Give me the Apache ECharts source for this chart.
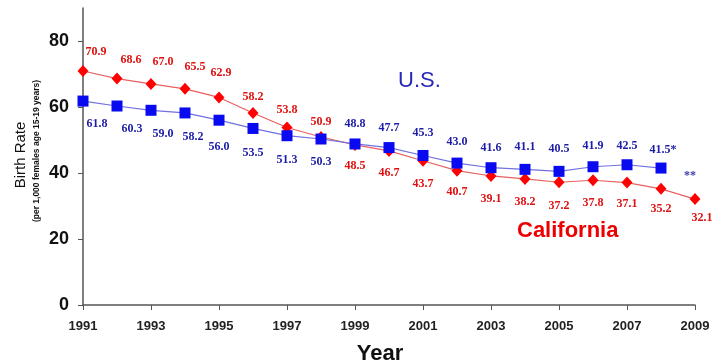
<!DOCTYPE html>
<html>
<head>
<meta charset="utf-8">
<script src="https://cdn.jsdelivr.net/npm/echarts@6/dist/echarts.min.js"></script>
<style>html,body{margin:0;padding:0;background:#fff;}#c{width:723px;height:362px;}</style>
</head>
<body>
<div id="c"></div>
<script>
var years = ['1991','1992','1993','1994','1995','1996','1997','1998','1999','2000','2001','2002','2003','2004','2005','2006','2007','2008','2009'];
var california = [70.9,68.6,67.0,65.5,62.9,58.2,53.8,50.9,48.5,46.7,43.7,40.7,39.1,38.2,37.2,37.8,37.1,35.2,32.1];
var us = [61.8,60.3,59.0,58.2,56.0,53.5,51.3,50.3,48.8,47.7,45.3,43.0,41.6,41.1,40.5,41.9,42.5,41.5,null];
var usLabelText = ['61.8','60.3','59.0','58.2','56.0','53.5','51.3','50.3','48.8','47.7','45.3','43.0','41.6','41.1','40.5','41.9','42.5','41.5*',''];
var yTicks = [0,20,40,60,80];

// label placement (style, not data)
var caOffsets = [[13,-19],[14,-19],[12,-22],[10,-22],[2,-25],[0,-16],[0,-18],[0,-15],[0,21],[0,22],[0,23],[0,21],[0,23],[0,23],[0,24],[0,23],[0,21],[0,20],[7,19]];
var usOffsets = [[14,23],[15,23],[12,24],[8,24],[0,27],[0,24],[0,24],[0,23],[0,-20],[0,-20],[0,-23],[0,-21],[0,-20],[0,-22],[0,-22],[0,-21],[0,-19],[2,-18],[0,0]];

var caData = california.map(function(v,i){
  return {value:v, label:{show:true, position:'inside', offset:caOffsets[i], color:'#e01010', fontFamily:'Liberation Serif', fontWeight:'bold', fontSize:12, formatter:function(p){return p.value.toFixed(1);}}};
});
var usData = us.map(function(v,i){
  return {value:v, label:{show:v!==null, position:'inside', offset:usOffsets[i], color:'#1c1ca8', fontFamily:'Liberation Serif', fontWeight:'bold', fontSize:12, formatter:function(){return usLabelText[i];}}};
});

var chart = echarts.init(document.getElementById('c'), null, {renderer:'canvas'});
chart.setOption({
  animation:false,
  backgroundColor:'#ffffff',
  grid:{left:83, right:28, top:8, bottom:57, containLabel:false, outerBoundsMode:'none'},
  xAxis:{
    type:'category', data:years, boundaryGap:false,
    axisLine:{lineStyle:{color:'#555', width:1.5}},
    axisTick:{interval:1, length:5, lineStyle:{color:'#555'}},
    axisLabel:{interval:1, color:'#222', fontFamily:'Liberation Sans', fontWeight:'bold', fontSize:13, margin:15},
    splitLine:{show:false},
    name:'Year', nameLocation:'middle', nameGap:38,
    nameTextStyle:{fontFamily:'Liberation Sans', fontWeight:'bold', fontSize:22, color:'#111', padding:[0,18,0,0]}
  },
  yAxis:{
    type:'value', min:0, max:90, interval:20,
    axisLine:{show:true, lineStyle:{color:'#555', width:1.5}},
    axisTick:{show:true, length:5, customValues:yTicks, lineStyle:{color:'#555'}},
    axisLabel:{customValues:yTicks, color:'#111', fontFamily:'Liberation Sans', fontWeight:'bold', fontSize:18, margin:14},
    splitLine:{show:false}
  },
  series:[
    {name:'California', type:'line', data:caData, symbol:'diamond', symbolSize:[11,12],
     itemStyle:{color:'#ff0000'}, lineStyle:{color:'#e86060', width:1.2}, z:2},
    {name:'U.S.', type:'line', data:usData, symbol:'rect', symbolSize:11,
     itemStyle:{color:'#0a0af0'}, lineStyle:{color:'#7070e0', width:1.2}, z:3, connectNulls:false}
  ],
  graphic:[
    {type:'text', x:21, y:155, rotation:Math.PI/2, style:{text:'Birth Rate', fill:'#111', font:'normal 15px "Liberation Sans"', align:'center', verticalAlign:'middle'}},
    {type:'text', x:37, y:151, rotation:Math.PI/2, style:{text:'(per 1,000 females age 15-19 years)', fill:'#111', font:'bold 8.5px "Liberation Sans"', align:'center', verticalAlign:'middle'}},
    {type:'text', left:398, top:70, style:{text:'U.S.', fill:'#2a2ab8', font:'normal 22px "Liberation Sans"'}},
    {type:'text', left:517, top:220, style:{text:'California', fill:'#ee0000', font:'bold 22px "Liberation Sans"'}},
    {type:'text', left:684, top:170, style:{text:'**', fill:'#3a3aa8', font:'bold 12px "Liberation Serif"'}}
  ]
});
</script>
</body>
</html>
